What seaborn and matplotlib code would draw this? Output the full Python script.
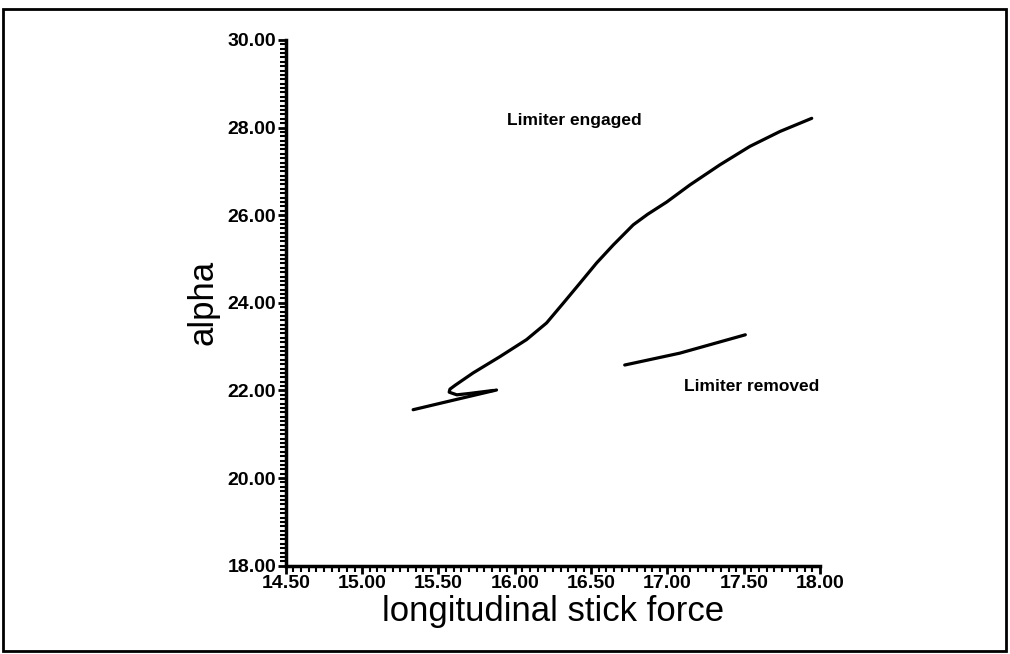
import matplotlib
matplotlib.use("Agg")
import matplotlib.pyplot as plt
from matplotlib.ticker import MultipleLocator, FormatStrFormatter
from matplotlib.patches import Rectangle
import seaborn as sns
import pandas as pd

# Limiter engaged curve (with hook at start)
engaged_x = [15.86, 15.70, 15.62, 15.57, 15.575, 15.61, 15.727, 15.902, 16.077, 16.208,
             16.317, 16.427, 16.536, 16.645, 16.776, 16.87, 16.995, 17.147, 17.344,
             17.54, 17.737, 17.945]
engaged_y = [22.00, 21.93, 21.90, 21.96, 22.03, 22.12, 22.40, 22.77, 23.16, 23.54,
             23.99, 24.45, 24.91, 25.32, 25.78, 26.02, 26.30, 26.69, 27.15,
             27.57, 27.91, 28.21]

# Limiter removed segments
removed1_x = [15.334, 15.60, 15.88]
removed1_y = [21.56, 21.78, 22.01]
removed2_x = [16.72, 17.08, 17.51]
removed2_y = [22.58, 22.85, 23.27]

x_ticks = [14.5, 15.0, 15.5, 16.0, 16.5, 17.0, 17.5, 18.0]
y_ticks = [18.0, 20.0, 22.0, 24.0, 26.0, 28.0, 30.0]

sns.set_style("ticks")
plt.rcParams['font.family'] = ['Liberation Sans', 'DejaVu Sans']
plt.rcParams['text.color'] = 'black'
plt.rcParams['axes.labelcolor'] = 'black'
plt.rcParams['xtick.color'] = 'black'
plt.rcParams['ytick.color'] = 'black'

fig = plt.figure(figsize=(10.1, 6.54), dpi=100)
ax = fig.add_axes([0.283, 0.135, 0.529, 0.804])

lw = 2.3
for xs, ys in [(engaged_x, engaged_y), (removed1_x, removed1_y), (removed2_x, removed2_y)]:
    df = pd.DataFrame({"x": xs, "y": ys})
    sns.lineplot(data=df, x="x", y="y", sort=False, estimator=None,
                 color="black", linewidth=lw, ax=ax,
                 solid_capstyle="round", solid_joinstyle="round")

ax.set_xlim(x_ticks[0], x_ticks[-1])
ax.set_ylim(y_ticks[0], y_ticks[-1])
ax.set_xticks(x_ticks)
ax.set_yticks(y_ticks)
ax.xaxis.set_major_formatter(FormatStrFormatter("%.2f"))
ax.yaxis.set_major_formatter(FormatStrFormatter("%.2f"))
ax.xaxis.set_minor_locator(MultipleLocator(0.05))
ax.yaxis.set_minor_locator(MultipleLocator(0.1))
ax.tick_params(which="major", length=6, width=2, direction="out", pad=1)
ax.tick_params(which="minor", length=4, width=1.5, direction="out")
for lab in ax.get_xticklabels() + ax.get_yticklabels():
    lab.set_fontweight("bold")
    lab.set_fontsize(14)

for s in ["top", "right"]:
    ax.spines[s].set_visible(False)
for s in ["left", "bottom"]:
    ax.spines[s].set_linewidth(2.5)
    ax.spines[s].set_color("black")

ax.set_xlabel("longitudinal stick force", fontsize=25, labelpad=2)
ax.set_ylabel("alpha", fontsize=25, labelpad=6)

ax.text(15.95, 28.17, "Limiter engaged", fontsize=12.5, fontweight="bold", va="center", ha="left")
ax.text(17.11, 22.08, "Limiter removed", fontsize=12.5, fontweight="bold", va="center", ha="left")

fig.patches.append(Rectangle((0.003, 0.004), 0.993, 0.983, transform=fig.transFigure,
                             fill=False, edgecolor="black", linewidth=2))

fig.savefig("out.png", dpi=100)
